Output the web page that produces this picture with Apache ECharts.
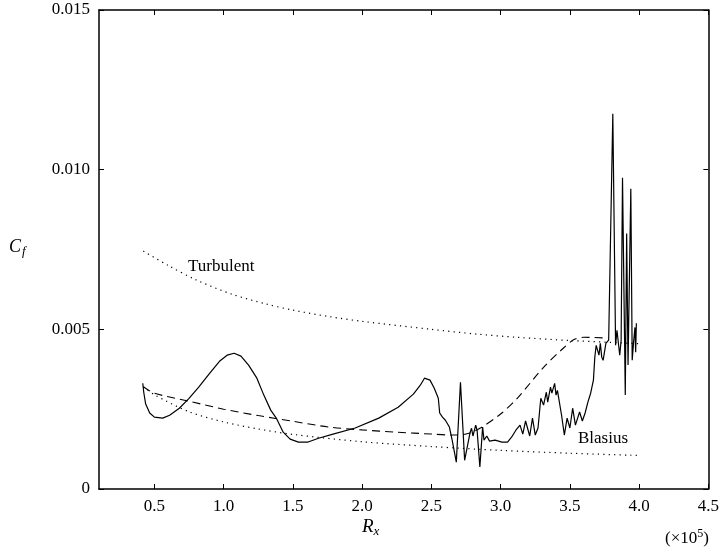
<!DOCTYPE html>
<html>
<head>
<meta charset="utf-8">
<script src="https://cdn.jsdelivr.net/npm/echarts@6/dist/echarts.min.js"></script>
<style>
  html, body { margin: 0; padding: 0; background: #fff; }
  #chart { width: 722px; height: 553px; }
</style>
</head>
<body>
<div id="chart"></div>
<script>
// Skin-friction coefficient along the plate (Rx in units of 1e5)
var xTicks = [0.5, 1.0, 1.5, 2.0, 2.5, 3.0, 3.5, 4.0, 4.5];

// Computed Cf (solid)
var cfRx = [0.416, 0.423, 0.437, 0.466, 0.50, 0.56, 0.61, 0.68, 0.75, 0.82, 0.90, 0.97, 1.025, 1.076, 1.125, 1.18, 1.24, 1.29, 1.34, 1.38,
  1.43, 1.48, 1.54, 1.61, 1.685, 1.79, 1.95, 2.12, 2.26, 2.37, 2.42, 2.45, 2.49, 2.52, 2.55, 2.56, 2.58, 2.60, 2.63, 2.65,
  2.68, 2.71, 2.74, 2.78, 2.79, 2.80, 2.82, 2.83, 2.85, 2.87, 2.88, 2.90, 2.92, 2.96, 3.01, 3.05, 3.08, 3.11,
  3.12, 3.14, 3.16, 3.18, 3.21, 3.23, 3.25, 3.27, 3.29, 3.31, 3.33, 3.34, 3.36, 3.37, 3.39, 3.40, 3.41, 3.44, 3.46, 3.48, 3.50,
  3.52, 3.54, 3.57, 3.59, 3.61, 3.63, 3.65, 3.67, 3.68, 3.69, 3.71, 3.72, 3.73, 3.74, 3.76, 3.78, 3.79, 3.81, 3.83, 3.84, 3.86,
  3.87, 3.88, 3.90, 3.91, 3.92, 3.94, 3.95, 3.96, 3.97, 3.975, 3.98];
var cfVal = [0.00331, 0.00303, 0.00266, 0.00238, 0.00225, 0.00222, 0.00231, 0.00253, 0.00284, 0.00319, 0.00363, 0.00400, 0.00419, 0.00425, 0.00416, 0.00388, 0.00347, 0.00294, 0.00247, 0.00222,
  0.00178, 0.00156, 0.00147, 0.00147, 0.00159, 0.00172, 0.00191, 0.00222, 0.00256, 0.00297, 0.00325, 0.00347, 0.00341, 0.00316, 0.00284, 0.00238, 0.00225, 0.00216, 0.00194, 0.00153,
  0.00084, 0.00334, 0.00090, 0.00178, 0.00190, 0.00166, 0.00200, 0.00184, 0.00069, 0.00194, 0.00153, 0.00166, 0.00150, 0.00153, 0.00147, 0.00147, 0.00163, 0.00184,
  0.00184, 0.00200, 0.00172, 0.00213, 0.00166, 0.00222, 0.00169, 0.00191, 0.00284, 0.00263, 0.00303, 0.00272, 0.00319, 0.00300, 0.00331, 0.00294, 0.00309, 0.00231, 0.00169, 0.00222, 0.00191,
  0.00253, 0.00200, 0.00241, 0.00213, 0.00238, 0.00272, 0.00300, 0.00341, 0.00413, 0.00450, 0.00419, 0.00456, 0.00413, 0.00403, 0.00456, 0.00466, 0.00466, 0.01175, 0.00450, 0.00497, 0.00419,
  0.00466, 0.00975, 0.00294, 0.00800, 0.00388, 0.00940, 0.00403, 0.00460, 0.00506, 0.00428, 0.00519];

// Transition model (dashed)
var dashRx = [0.42, 0.5, 0.75, 1.0, 1.25, 1.5, 1.76, 2.0, 2.25, 2.5, 2.64, 2.75, 2.85, 3.0, 3.12, 3.31, 3.45, 3.53, 3.6, 3.75];
var dashVal = [0.00320, 0.00300, 0.00275, 0.00250, 0.00230, 0.00212, 0.00194, 0.00185, 0.00178, 0.00172, 0.00169, 0.00172, 0.00190, 0.00235, 0.00284, 0.00381, 0.00440, 0.00468, 0.00475, 0.00473];

// Turbulent correlation (dotted, upper)
var turbRx = [0.42, 0.6, 0.8, 1.06, 1.3, 1.5, 1.76, 2.0, 2.5, 2.83, 3.12, 3.5, 4.0];
var turbVal = [0.00745, 0.00700, 0.00655, 0.00610, 0.00580, 0.00560, 0.00540, 0.00525, 0.00500, 0.00485, 0.00475, 0.00465, 0.00455];

// Blasius laminar solution (dotted, lower)
var blasRx = [0.42, 0.5, 0.75, 1.0, 1.25, 1.5, 2.0, 2.5, 3.0, 3.5, 4.0];
var blasVal = [0.00320, 0.00295, 0.00242, 0.00210, 0.00188, 0.00171, 0.00148, 0.00133, 0.00121, 0.00112, 0.00105];

function pairs(xs, ys) {
  return xs.map(function (x, i) { return [x, ys[i]]; });
}

var serif = '"Liberation Serif", "DejaVu Serif", serif';
var chart = echarts.init(document.getElementById('chart'));

var frameLine = { show: true, onZero: false, lineStyle: { color: '#000', width: 1.5 } };
var tickStyle = { show: true, inside: true, length: 5, lineStyle: { color: '#000', width: 1 } };

chart.setOption({
  animation: false,
  backgroundColor: '#fff',
  grid: { left: 99, right: 11, top: 10, bottom: 64, containLabel: false },
  xAxis: [{
    type: 'value', min: 0.1, max: 4.5,
    axisLine: frameLine,
    axisTick: Object.assign({ customValues: xTicks }, tickStyle),
    axisLabel: { customValues: xTicks, color: '#000', fontFamily: serif, fontSize: 17, margin: 9,
      formatter: function (v) { return v.toFixed(1); } },
    splitLine: { show: false }
  }, {
    type: 'value', min: 0.1, max: 4.5, position: 'top',
    axisLine: frameLine,
    axisTick: Object.assign({ customValues: xTicks }, tickStyle),
    axisLabel: { show: false },
    splitLine: { show: false }
  }],
  yAxis: [{
    type: 'value', min: 0, max: 0.015, interval: 0.005,
    axisLine: frameLine,
    axisTick: tickStyle,
    axisLabel: { color: '#000', fontFamily: serif, fontSize: 17, margin: 9,
      formatter: function (v) { return v === 0 ? '0' : v.toFixed(3); } },
    splitLine: { show: false }
  }, {
    type: 'value', min: 0, max: 0.015, interval: 0.005, position: 'right',
    axisLine: frameLine,
    axisTick: tickStyle,
    axisLabel: { show: false },
    splitLine: { show: false }
  }],
  series: [
    { type: 'line', data: pairs(turbRx, turbVal), showSymbol: false, smooth: 0.3,
      lineStyle: { color: '#000', width: 1.2, type: [1.2, 4.2] } },
    { type: 'line', data: pairs(blasRx, blasVal), showSymbol: false, smooth: 0.3,
      lineStyle: { color: '#000', width: 1.2, type: [1.2, 4.2] } },
    { type: 'line', data: pairs(dashRx, dashVal), showSymbol: false, smooth: 0.3,
      lineStyle: { color: '#000', width: 1.1, type: [8, 5] } },
    { type: 'line', data: pairs(cfRx, cfVal), showSymbol: false,
      lineStyle: { color: '#000', width: 1.2 } }
  ],
  graphic: [
    { type: 'text', left: 9, top: 238, style: {
        text: '{c|C}{s|f}', rich: {
          c: { fontFamily: serif, fontStyle: 'italic', fontSize: 18, fill: '#000' },
          s: { fontFamily: serif, fontStyle: 'italic', fontSize: 13, fill: '#000', verticalAlign: 'bottom', padding: [10, 0, 0, 1] }
        } } },
    { type: 'text', left: 362, top: 517, style: {
        text: '{c|R}{s|x}', rich: {
          c: { fontFamily: serif, fontStyle: 'italic', fontSize: 19, fill: '#000' },
          s: { fontFamily: serif, fontStyle: 'italic', fontSize: 13, fill: '#000', verticalAlign: 'bottom', padding: [10, 0, 0, 0] }
        } } },
    { type: 'text', left: 665, top: 528, style: {
        text: '{t|(×10}{p|5}{t|)}', rich: {
          t: { fontFamily: serif, fontSize: 17, fill: '#000' },
          p: { fontFamily: serif, fontSize: 12, fill: '#000', verticalAlign: 'top', padding: [0, 0, 9, 0] }
        } } },
    { type: 'text', left: 188, top: 258, style: { text: 'Turbulent', fontFamily: serif, fontSize: 17, fill: '#000' } },
    { type: 'text', left: 578, top: 430, style: { text: 'Blasius', fontFamily: serif, fontSize: 17, fill: '#000' } }
  ]
});
</script>
</body>
</html>
